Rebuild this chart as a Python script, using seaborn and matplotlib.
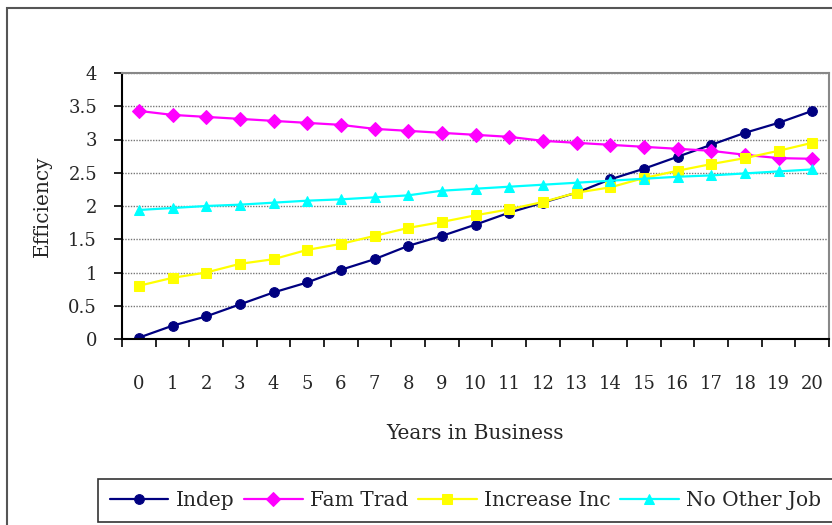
import numpy as np
import pandas as pd
import matplotlib
matplotlib.use("Agg")
import matplotlib.pyplot as plt
from matplotlib.patches import Rectangle
from matplotlib.ticker import FixedLocator
import seaborn as sns

years = list(range(21))
indep = [0.02, 0.20, 0.34, 0.52, 0.70, 0.85, 1.04, 1.20, 1.40, 1.55, 1.72,
         1.90, 2.05, 2.20, 2.40, 2.56, 2.74, 2.92, 3.10, 3.25, 3.43]
fam_trad = [3.43, 3.37, 3.34, 3.31, 3.28, 3.25, 3.22, 3.16, 3.13, 3.10, 3.07,
            3.04, 2.98, 2.95, 2.92, 2.89, 2.86, 2.83, 2.77, 2.72, 2.71]
increase_inc = [0.80, 0.92, 1.00, 1.13, 1.20, 1.34, 1.43, 1.55, 1.67, 1.76, 1.86,
                1.95, 2.06, 2.20, 2.28, 2.42, 2.53, 2.63, 2.72, 2.83, 2.95]
no_other_job = [1.94, 1.97, 2.00, 2.02, 2.05, 2.08, 2.10, 2.13, 2.16, 2.23, 2.26,
                2.29, 2.32, 2.35, 2.38, 2.41, 2.44, 2.46, 2.49, 2.52, 2.55]
series_names = ["Indep", "Fam Trad", "Increase Inc", "No Other Job"]
y_tick_labels = ["0", "0.5", "1", "1.5", "2", "2.5", "3", "3.5", "4"]
colors = ["#000080", "#FF00FF", "#FFFF00", "#00FFFF"]
marker_shapes = ["o", "D", "s", "^"]
marker_sizes = [9, 9, 9, 10]

df = pd.DataFrame({
    "Years": years * 4,
    "Efficiency": indep + fam_trad + increase_inc + no_other_job,
    "Series": np.repeat(series_names, len(years)),
})

sns.set_theme(style="white")
plt.rcParams["font.family"] = ["DejaVu Serif"]

fig = plt.figure(figsize=(8.32, 5.25), dpi=100)
ax = fig.add_axes([122 / 832, 1 - 339 / 525, 707 / 832, 266 / 525])

for name, col, mk, ms in zip(series_names, colors, marker_shapes, marker_sizes):
    sub = df[df["Series"] == name]
    sns.lineplot(data=sub, x="Years", y="Efficiency", ax=ax, color=col,
                 marker=mk, markersize=ms, markeredgecolor=col, linewidth=1.6,
                 label=name, legend=False)

ax.set_xlim(-0.5, 20.5)
ax.set_ylim(0, 4)
ax.set_yticks(np.arange(0, 4.01, 0.5))
ax.set_yticklabels(y_tick_labels, fontsize=13)

# category boundaries carry the tick marks, labels sit at the centres
ax.xaxis.set_major_locator(FixedLocator(np.arange(-0.5, 20.6, 1)))
ax.xaxis.set_major_formatter(plt.NullFormatter())
ax.set_xticks(years, minor=True)
ax.set_xticklabels([str(y) for y in years], minor=True, fontsize=13)
ax.tick_params(axis="x", which="major", direction="out", length=6, width=1.2,
               color="black", bottom=True)
ax.tick_params(axis="x", which="minor", length=0, pad=26, bottom=True)
ax.tick_params(axis="y", direction="out", length=6, width=1.2, color="black",
               left=True, pad=12)

ax.grid(axis="y", which="major", color="#777777", linestyle=(0, (1, 1)), linewidth=1)
ax.set_axisbelow(True)

for side in ["left", "bottom"]:
    ax.spines[side].set_color("black")
    ax.spines[side].set_linewidth(1.5)
for side in ["top", "right"]:
    ax.spines[side].set_color("#888888")
    ax.spines[side].set_linewidth(1.5)

ax.set_xlabel("Years in Business", fontsize=14.5, labelpad=22)
ax.set_ylabel("Efficiency", fontsize=14.5, labelpad=12)

handles, labels = ax.get_legend_handles_labels()
for h in handles:
    h.set_markersize(7)
leg = fig.legend(handles, labels, loc="lower left",
                 bbox_to_anchor=(98 / 832, 3 / 525), ncol=4, fontsize=14.5,
                 frameon=True, fancybox=False, handlelength=2.9,
                 columnspacing=0.5, handletextpad=0.35, borderpad=0.6,
                 borderaxespad=0)
leg.get_frame().set_edgecolor("black")
leg.get_frame().set_linewidth(1.2)

fig.patches.append(Rectangle((7 / 832, -0.1), 1.2, 1 - 8 / 525 + 0.1,
                             transform=fig.transFigure, fill=False,
                             edgecolor="#555555", linewidth=1.5))

fig.savefig("out.png", dpi=100)
